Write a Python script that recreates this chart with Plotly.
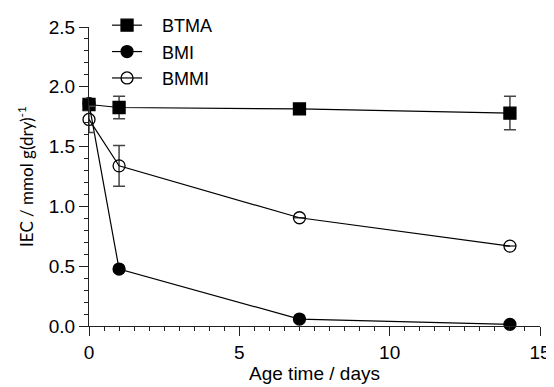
import plotly.graph_objects as go

days = [0, 1, 7, 14]
btma = [1.852, 1.827, 1.815, 1.78]
btma_err = [0.0, 0.095, 0.0, 0.14]
bmi = [1.86, 0.476, 0.058, 0.014]
bmi_err = [0.0, 0.0, 0.0, 0.0]
bmmi = [1.727, 1.339, 0.905, 0.668]
bmmi_err = [0.11, 0.17, 0.0, 0.0]

x_ticks = [0, 5, 10, 15]
y_ticks = [0.0, 0.5, 1.0, 1.5, 2.0, 2.5]

fig = go.Figure()
NB = "\u00a0\u00a0\u00a0"

def add(name, y, err, symbol, group):
    fig.add_trace(go.Scatter(
        x=days, y=y, name=NB + name, mode="lines+markers",
        line=dict(color="black", width=1.2),
        marker=dict(symbol=symbol, size=12, color="black",
                    line=dict(color="black", width=1.3)),
        error_y=dict(type="data", array=err, visible=True, color="#444",
                     thickness=1.5, width=6),
        cliponaxis=False, legendgroup=group,
    ))

add("BTMA", btma, btma_err, "square", "a")
add("BMI", bmi, bmi_err, "circle", "b")
add("BMMI", bmmi, bmmi_err, "circle-open", "c")

fig.update_layout(
    width=546, height=379,
    margin=dict(l=81, r=14, t=19, b=61, autoexpand=False),
    paper_bgcolor="white", plot_bgcolor="white",
    font=dict(family="Liberation Sans, Arial, sans-serif", color="black"),
    showlegend=True,
    legend=dict(x=0.04, y=1.067, xanchor="left", yanchor="top",
                font=dict(size=18), tracegroupgap=0,
                bgcolor="rgba(0,0,0,0)"),
    xaxis=dict(
        range=[0, 15], tickvals=x_ticks, ticktext=[str(v) for v in x_ticks],
        ticks="outside", ticklen=9, tickwidth=1, tickcolor="#222",
        showline=True, linecolor="#222", linewidth=1,
        showgrid=False, zeroline=False, automargin=False,
        tickfont=dict(size=19),
        minor=dict(dtick=0.5, ticks="outside", ticklen=4, tickcolor="#222", showgrid=False),
        title=dict(text="Age time / days", font=dict(size=19), standoff=4),
    ),
    yaxis=dict(
        range=[0, 2.5], tickvals=y_ticks, ticktext=[f"{v:.1f}" for v in y_ticks],
        ticks="outside", ticklen=9, tickwidth=1, tickcolor="#222",
        showline=True, linecolor="#222", linewidth=1,
        showgrid=False, zeroline=False, automargin=False,
        tickfont=dict(size=19),
        minor=dict(dtick=0.1, ticks="outside", ticklen=4, tickcolor="#222", showgrid=False),
        title=dict(text="IEC / mmol g(dry)<sup>-1</sup>",
                   font=dict(size=17, family="Lato, Open Sans, sans-serif"), standoff=10),
    ),
)

fig.write_html("out.html")
